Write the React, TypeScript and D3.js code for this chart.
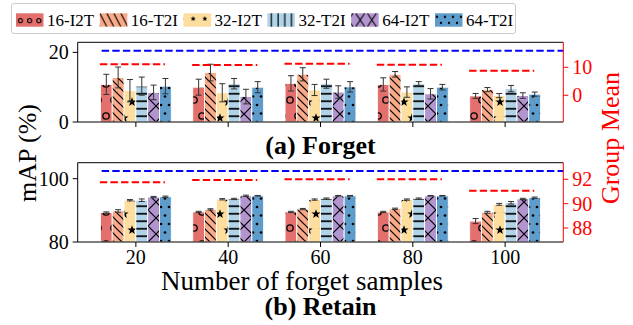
import React from 'react';
import * as d3 from 'd3';

// ---------- data ----------
const sampleLabels = ['20', '40', '60', '80', '100'];
const seriesNames = ['16-I2T', '16-T2I', '32-I2T', '32-T2I', '64-I2T', '64-T2I'];
const seriesColors = ['#E3706C', '#F8AA88', '#FDDE9F', '#B0D3E8', '#B294CE', '#5E9DCB'];

const forgetMean = [
  [10.8, 10.0, 11.1, 10.8, 7.5],
  [12.8, 14.2, 13.7, 13.7, 9.3],
  [9.0, 8.4, 9.2, 8.6, 7.6],
  [10.3, 11.0, 11.0, 11.0, 9.6],
  [8.5, 7.3, 8.6, 8.1, 7.6],
  [10.3, 10.0, 10.1, 10.0, 8.0],
];
const forgetErr = [
  [2.9, 2.3, 2.2, 1.9, 0.7],
  [3.0, 2.4, 1.9, 0.8, 0.6],
  [3.2, 2.6, 1.6, 1.5, 0.6],
  [2.6, 1.5, 1.3, 0.6, 0.9],
  [2.1, 2.1, 1.8, 1.5, 0.8],
  [2.2, 1.6, 1.5, 0.8, 0.6],
];
const retainMean = [
  [89.3, 89.5, 89.5, 89.5, 86.6],
  [89.8, 90.3, 90.4, 90.5, 89.4],
  [93.2, 93.5, 93.4, 93.4, 91.9],
  [93.2, 93.6, 93.7, 93.7, 92.4],
  [94.2, 94.6, 94.6, 94.6, 93.6],
  [94.3, 94.6, 94.6, 94.6, 94.0],
];
const retainErr = [
  [0.2, 0.2, 0.2, 0.2, 0.8],
  [0.4, 0.2, 0.2, 0.2, 0.3],
  [0.2, 0.2, 0.2, 0.2, 0.3],
  [0.4, 0.2, 0.2, 0.2, 0.4],
  [0.2, 0.2, 0.1, 0.1, 0.2],
  [0.2, 0.1, 0.1, 0.1, 0.2],
];
const forgetGroupMean = [11.1, 10.8, 11.3, 10.9, 8.8];
const retainGroupMean = [91.75, 91.95, 92.0, 92.0, 91.05];
const forgetReference = 20.5;
const retainReference = 102.4;

const forgetLeftTicks = [0, 20];
const forgetRightTicks = [0, 10];
const retainLeftTicks = [80, 100];
const retainRightTicks = [88, 90, 92];

// ---------- layout ----------
const W = 633;
const H = 325;
const FONT = '"Liberation Serif", "Times New Roman", serif';
const BAR_W = 0.128;

const x = d3.scaleLinear().domain([-0.63, 4.63]).range([77.7, 563.3]);

type Panel = {
  key: string;
  top: number;
  bottom: number;
  leftDomain: [number, number];
  rightDomain: [number, number];
  leftTicks: number[];
  rightTicks: number[];
  mean: number[][];
  err: number[][];
  groupMean: number[];
  reference: number;
  title: string;
  showXLabels: boolean;
  titleBaseline: number;
};

const panels: Panel[] = [
  {
    key: 'forget', top: 42.3, bottom: 122, leftDomain: [0, 22.9], rightDomain: [-9.54, 18.93],
    leftTicks: forgetLeftTicks, rightTicks: forgetRightTicks, mean: forgetMean, err: forgetErr,
    groupMean: forgetGroupMean, reference: forgetReference, title: '(a) Forget', showXLabels: false, titleBaseline: 154,
  },
  {
    key: 'retain', top: 162.7, bottom: 242, leftDomain: [80, 105.05], rightDomain: [86.85, 93.36],
    leftTicks: retainLeftTicks, rightTicks: retainRightTicks, mean: retainMean, err: retainErr,
    groupMean: retainGroupMean, reference: retainReference, title: '(b) Retain', showXLabels: true, titleBaseline: 315,
  },
];

function starPath(cx: number, cy: number, ro: number, ri: number) {
  const pts: string[] = [];
  for (let i = 0; i < 10; i++) {
    const r = i % 2 === 0 ? ro : ri;
    const a = -Math.PI / 2 + (i * Math.PI) / 5;
    pts.push(`${(cx + r * Math.cos(a)).toFixed(2)},${(cy + r * Math.sin(a)).toFixed(2)}`);
  }
  return 'M' + pts.join('L') + 'Z';
}

function BarPatterns() {
  const sw = 1.3;
  return (
    <>
      {/* circles */}
      <pattern id="hp0" patternUnits="userSpaceOnUse" width={16} height={32} x={2} y={4}>
        {[[0, 0], [16, 0], [0, 32], [16, 32], [8, 16]].map(([cx, cy], i) => (
          <circle key={i} cx={cx} cy={cy} r={3.2} fill="none" stroke="#000" strokeWidth={sw} />
        ))}
      </pattern>
      {/* back diagonal */}
      <pattern id="hp1" patternUnits="userSpaceOnUse" width={8} height={8}>
        <path d="M-1,-1L9,9M-1,7L1,9M7,-1L9,1" stroke="#000" strokeWidth={1.2} />
      </pattern>
      {/* stars */}
      <pattern id="hp2" patternUnits="userSpaceOnUse" width={16} height={32} x={4} y={6}>
        {[[0, 0], [16, 0], [0, 32], [16, 32], [8, 16]].map(([cx, cy], i) => (
          <path key={i} d={starPath(cx, cy, 4.8, 2)} fill="#000" />
        ))}
      </pattern>
      {/* horizontal */}
      <pattern id="hp3" patternUnits="userSpaceOnUse" width={8} height={7.5}>
        <line x1={0} x2={8} y1={3.75} y2={3.75} stroke="#000" strokeWidth={1.7} />
      </pattern>
      {/* x */}
      <pattern id="hp4" patternUnits="userSpaceOnUse" width={16} height={16} x={4} y={2}>
        <path d="M-1,-1L17,17M17,-1L-1,17" stroke="#000" strokeWidth={1.2} />
      </pattern>
      {/* dots */}
      <pattern id="hp5" patternUnits="userSpaceOnUse" width={8} height={17} x={1} y={3}>
        {[[0, 0], [8, 0], [0, 17], [8, 17], [4, 8.5]].map(([cx, cy], i) => (
          <circle key={i} cx={cx} cy={cy} r={1.35} fill="#000" />
        ))}
      </pattern>
    </>
  );
}

const LEG_X0 = 16;
const LEG_STEP = 83.8;
const LEG_Y = 13.3;
const LEG_PW = 27.5;
const LEG_PH = 13.4;

function LegendPatterns() {
  return (
    <>
      {seriesNames.map((_, i) => {
        const px = LEG_X0 + i * LEG_STEP;
        if (i === 0)
          return (
            <pattern key={i} id="lp0" patternUnits="userSpaceOnUse" width={9.2} height={LEG_PH} x={px} y={LEG_Y}>
              <circle cx={4.4} cy={7.3} r={2} fill="none" stroke="#000" strokeWidth={1.1} />
            </pattern>
          );
        if (i === 1)
          return (
            <pattern key={i} id="lp1" patternUnits="userSpaceOnUse" width={7} height={LEG_PH} x={px} y={LEG_Y}>
              <path d={`M-1,-1.9L8,${LEG_PH + 1.9}`} stroke="#000" strokeWidth={1.1} />
            </pattern>
          );
        if (i === 2)
          return (
            <pattern key={i} id="lp2" patternUnits="userSpaceOnUse" width={11.6} height={LEG_PH} x={px} y={LEG_Y}>
              <path d={starPath(9.6, 5.5, 2.8, 1.15)} fill="#000" />
            </pattern>
          );
        if (i === 3)
          return (
            <pattern key={i} id="lp3" patternUnits="userSpaceOnUse" width={6.7} height={LEG_PH} x={px} y={LEG_Y}>
              <line x1={4} x2={4} y1={0} y2={LEG_PH} stroke="#000" strokeWidth={1.2} />
            </pattern>
          );
        if (i === 4)
          return (
            <pattern key={i} id="lp4" patternUnits="userSpaceOnUse" width={11.7} height={LEG_PH} x={px + 4.5} y={LEG_Y}>
              <path d={`M0,0L9,${LEG_PH}M9,0L0,${LEG_PH}`} stroke="#000" strokeWidth={1.1} />
            </pattern>
          );
        return (
          <pattern key={i} id="lp5" patternUnits="userSpaceOnUse" width={8} height={LEG_PH} x={px} y={LEG_Y}>
            <circle cx={2} cy={3.5} r={1.2} fill="#000" />
            <circle cx={6} cy={9.5} r={1.2} fill="#000" />
          </pattern>
        );
      })}
    </>
  );
}

function PanelView({ p }: { p: Panel }) {
  const yL = d3.scaleLinear().domain(p.leftDomain).range([p.bottom, p.top]);
  const yR = d3.scaleLinear().domain(p.rightDomain).range([p.bottom, p.top]);
  const [xl, xr] = x.range();
  const groups = d3.range(sampleLabels.length);
  const clipId = `clip-${p.key}`;
  return (
    <g>
      <defs>
        <clipPath id={clipId}>
          <rect x={xl} y={p.top} width={xr - xl} height={p.bottom - p.top} />
        </clipPath>
      </defs>
      <g clipPath={`url(#${clipId})`}>
        {seriesNames.map((_, s) =>
          groups.map((g) => {
            const x0 = x(g + (s - 3) * BAR_W);
            const x1 = x(g + (s - 2) * BAR_W);
            const v = p.mean[s][g];
            const yt = yL(v);
            const yb = yL(p.leftDomain[0]);
            return (
              <g key={`${s}-${g}`}>
                <rect x={x0} y={yt} width={x1 - x0} height={yb - yt} fill={seriesColors[s]} />
                <rect x={x0} y={yt} width={x1 - x0} height={yb - yt} fill={`url(#hp${s})`} />
                <rect x={x0} y={yt} width={x1 - x0} height={yb - yt} fill="none" stroke="#fff" strokeWidth={0.9} />
              </g>
            );
          })
        )}
        {seriesNames.map((_, s) =>
          groups.map((g) => {
            const cx = x(g + (s - 2.5) * BAR_W);
            const v = p.mean[s][g];
            const e = p.err[s][g];
            return (
              <g key={`e${s}-${g}`} stroke="#333" strokeWidth={1}>
                <line x1={cx} x2={cx} y1={yL(v - e)} y2={yL(v + e)} />
                <line x1={cx - 3} x2={cx + 3} y1={yL(v - e)} y2={yL(v - e)} />
                <line x1={cx - 3} x2={cx + 3} y1={yL(v + e)} y2={yL(v + e)} />
              </g>
            );
          })
        )}
        {groups.map((g) => (
          <line key={`gm${g}`} x1={x(g - 0.39)} x2={x(g + 0.315)} y1={yR(p.groupMean[g])} y2={yR(p.groupMean[g])}
            stroke="#FF0000" strokeWidth={2} strokeDasharray="7.4,3.2" />
        ))}
        <line x1={x(-0.37)} x2={xr + 5} y1={yL(p.reference)} y2={yL(p.reference)}
          stroke="#0000FF" strokeWidth={2} strokeDasharray="7.4,3.2" />
      </g>
      {/* spines */}
      <line x1={xl} x2={xr} y1={p.top} y2={p.top} stroke="#000" strokeWidth={1} />
      <line x1={xl} x2={xr} y1={p.bottom} y2={p.bottom} stroke="#000" strokeWidth={1} />
      <line x1={xl} x2={xl} y1={p.top} y2={p.bottom} stroke="#000" strokeWidth={1} />
      <line x1={xr} x2={xr} y1={p.top} y2={p.bottom} stroke="#FF0000" strokeWidth={1} />
      {/* x ticks */}
      {groups.map((g) => (
        <g key={`xt${g}`}>
          <line x1={x(g)} x2={x(g)} y1={p.bottom} y2={p.bottom + 5} stroke="#000" strokeWidth={1} />
          {p.showXLabels && (
            <text x={x(g)} y={p.bottom + 22} textAnchor="middle" fontSize={20} fontFamily={FONT}>
              {sampleLabels[g]}
            </text>
          )}
        </g>
      ))}
      {/* left ticks */}
      {p.leftTicks.map((t) => (
        <g key={`lt${t}`}>
          <line x1={xl - 5} x2={xl} y1={yL(t)} y2={yL(t)} stroke="#000" strokeWidth={1} />
          <text x={xl - 9} y={yL(t)} textAnchor="end" dominantBaseline="central" fontSize={20} fontFamily={FONT}>{t}</text>
        </g>
      ))}
      {/* right ticks */}
      {p.rightTicks.map((t) => (
        <g key={`rt${t}`}>
          <line x1={xr} x2={xr + 5} y1={yR(t)} y2={yR(t)} stroke="#FF0000" strokeWidth={1} />
          <text x={xr + 9} y={yR(t)} textAnchor="start" dominantBaseline="central" fontSize={20} fontFamily={FONT} fill="#FF0000">{t}</text>
        </g>
      ))}
      <text x={(xl + xr) / 2} y={p.titleBaseline} textAnchor="middle" fontSize={26} fontWeight="bold" fontFamily={FONT}>
        {p.title}
      </text>
    </g>
  );
}

export default function App() {
  return (
    <svg width={W} height={H} viewBox={`0 0 ${W} ${H}`} style={{ position: 'absolute', left: 0, top: 0, background: '#fff' }}>
      <defs>
        <BarPatterns />
        <LegendPatterns />
      </defs>
      <rect x={0} y={0} width={W} height={H} fill="#fff" />
      {panels.map((p) => (
        <PanelView key={p.key} p={p} />
      ))}
      <text x={302} y={290} textAnchor="middle" fontSize={27} fontFamily={FONT}>
        Number of forget samples
      </text>
      <text transform="translate(27,153) rotate(-90)" textAnchor="middle" dominantBaseline="central" fontSize={26} fontFamily={FONT}>
        mAP (%)
      </text>
      <text transform="translate(610,138) rotate(-90)" textAnchor="middle" dominantBaseline="central" fontSize={26} fontFamily={FONT} fill="#FF0000">
        Group Mean
      </text>
      {/* legend */}
      <rect x={11.5} y={3.5} width={504} height={30} rx={2.5} fill="#fff" stroke="#cccccc" strokeWidth={1} />
      {seriesNames.map((name, i) => {
        const px = LEG_X0 + i * LEG_STEP;
        return (
          <g key={name}>
            <rect x={px} y={LEG_Y} width={LEG_PW} height={LEG_PH} fill={seriesColors[i]} />
            <rect x={px} y={LEG_Y} width={LEG_PW} height={LEG_PH} fill={`url(#lp${i})`} />
            <text x={px + 31} y={LEG_Y + LEG_PH / 2 + 0.5} dominantBaseline="central" fontSize={17} fontFamily={FONT}>{name}</text>
          </g>
        );
      })}
    </svg>
  );
}
